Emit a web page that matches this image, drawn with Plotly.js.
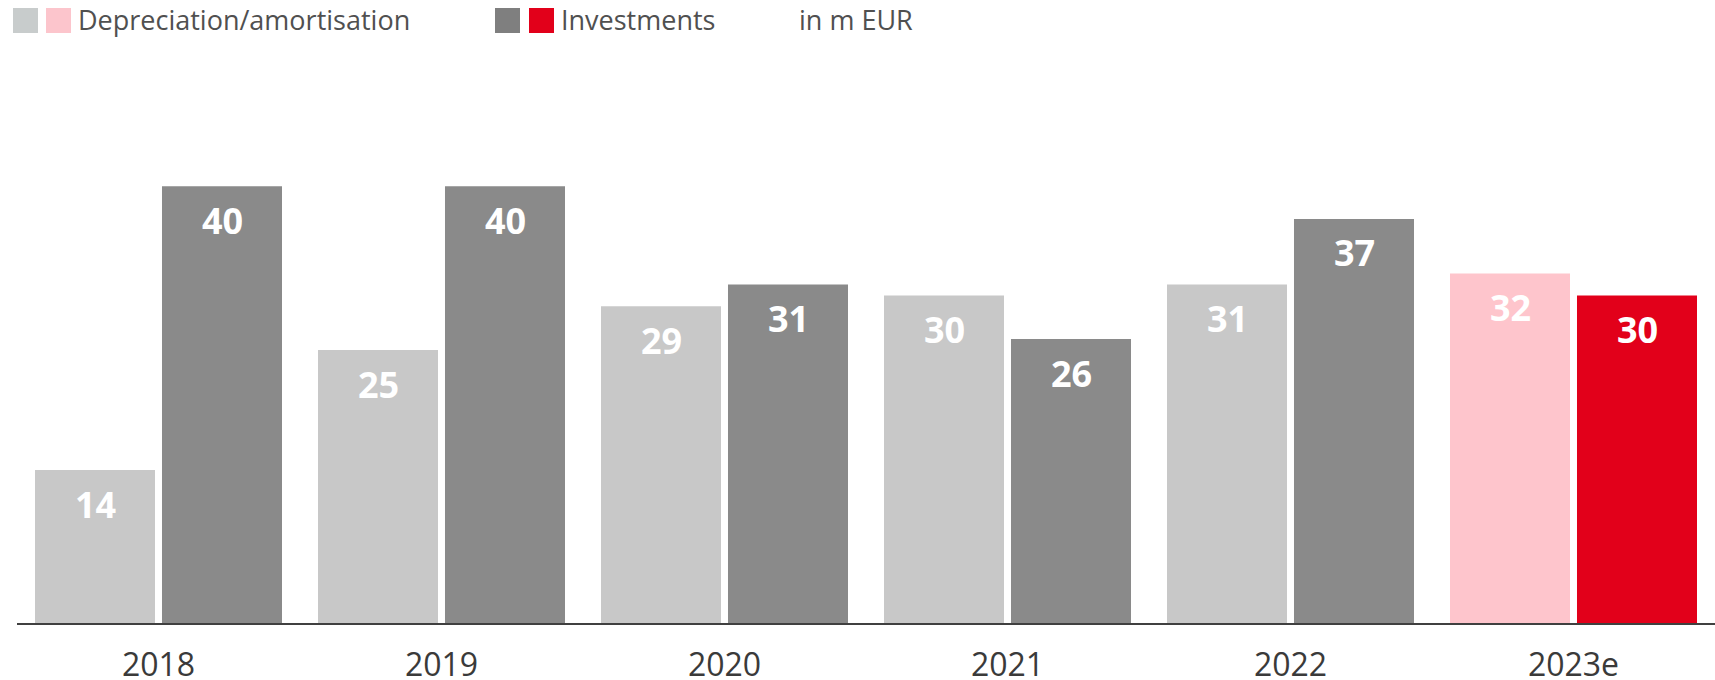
<!DOCTYPE html>
<html>
<head>
<meta charset="utf-8">
<script src="https://cdn.plot.ly/plotly-3.0.1.min.js"></script>
<style>html,body{margin:0;padding:0;background:#fff;}#chart{width:1715px;height:680px;}</style>
</head>
<body>
<div id="chart"></div>
<script>
const categories = ['2018', '2019', '2020', '2021', '2022', '2023e'];
const depreciation = [14, 25, 29, 30, 31, 32];
const investments = [40, 40, 31, 26, 37, 30];
const depColors = ['#c8c8c8', '#c8c8c8', '#c8c8c8', '#c8c8c8', '#c8c8c8', '#fec5cc'];
const invColors = ['#8a8a8a', '#8a8a8a', '#8a8a8a', '#8a8a8a', '#8a8a8a', '#e2001a'];

const traces = [
  {type: 'bar', name: 'Depreciation/amortisation', x: categories, y: depreciation,
   marker: {color: depColors}, hoverinfo: 'x+y'},
  {type: 'bar', name: 'Investments', x: categories, y: investments,
   marker: {color: invColors}, hoverinfo: 'x+y'}
];

const L = 17, B = 623, H = 546, W = 1698;
const px = v => (v - L) / W;
const py = v => (B - v) / H;

const valueFont = {family: 'Open Sans', size: 36, color: '#ffffff', weight: 700};
const annotations = [];
categories.forEach((c, i) => {
  annotations.push({x: i, y: depreciation[i], xref: 'x', yref: 'y', text: String(depreciation[i]),
    showarrow: false, xshift: -63.5, yshift: -34, yanchor: 'middle', font: valueFont});
  annotations.push({x: i, y: investments[i], xref: 'x', yref: 'y', text: String(investments[i]),
    showarrow: false, xshift: 63.5, yshift: -34, yanchor: 'middle', font: valueFont});
});

const legendFont = {family: 'Open Sans', size: 27, color: '#505050'};
annotations.push({xref: 'paper', yref: 'paper', x: px(76), y: py(20), xanchor: 'left', yanchor: 'middle',
  text: 'Depreciation/amortisation', showarrow: false, font: legendFont});
annotations.push({xref: 'paper', yref: 'paper', x: px(559), y: py(20), xanchor: 'left', yanchor: 'middle',
  text: 'Investments', showarrow: false, font: legendFont});
annotations.push({xref: 'paper', yref: 'paper', x: px(797), y: py(20), xanchor: 'left', yanchor: 'middle',
  text: 'in m EUR', showarrow: false, font: legendFont});

const sq = (x0, color) => ({type: 'rect', xref: 'paper', yref: 'paper',
  x0: px(x0), x1: px(x0 + 25), y0: py(33), y1: py(8), fillcolor: color, line: {width: 0}});
const shapes = [sq(13, '#c8cccc'), sq(46, '#fcc5cc'), sq(495, '#7f7f7f'), sq(529, '#e2001a')];

const layout = {
  width: 1715, height: 680,
  margin: {l: L, r: 0, t: 77, b: 57, pad: 0},
  paper_bgcolor: '#ffffff', plot_bgcolor: '#ffffff',
  barmode: 'group', bargap: 0.1025, bargroupgap: 0.055,
  showlegend: false,
  xaxis: {type: 'category', range: [-0.5, 5.5], showline: true, linecolor: '#404040', linewidth: 2,
    ticks: '', showgrid: false, zeroline: false, fixedrange: true,
    tickfont: {family: 'Open Sans', size: 32, color: '#3a3a3a'}, ticklabelstandoff: 13},
  yaxis: {range: [0, 50], visible: false, showgrid: false, zeroline: false, fixedrange: true},
  annotations: annotations,
  shapes: shapes
};

Plotly.newPlot('chart', traces, layout, {displayModeBar: false, staticPlot: true});
</script>
</body>
</html>
